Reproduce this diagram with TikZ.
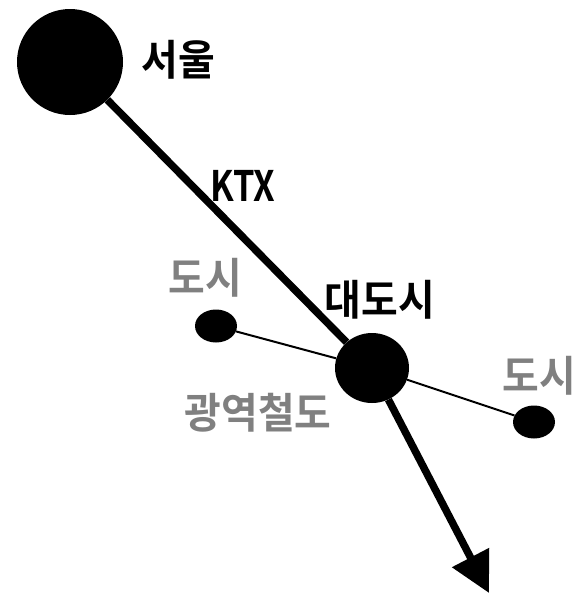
\documentclass[tikz,border=0pt]{standalone}
\usepackage{fontspec}
\usepackage{tikz}
\usetikzlibrary{arrows.meta,shapes.geometric}
\newfontfamily\krfont{Noto Sans CJK KR Bold}
\definecolor{labelgray}{HTML}{808080}
\newcommand{\narrow}[2][0.95]{\scalebox{#1}[1]{#2}}

\begin{document}
\begin{tikzpicture}[x=1pt,y=-1pt,
    city/.style={ellipse,fill=black,inner sep=0pt},
    ktx/.style={line width=7.5pt},
    metroline/.style={line width=2pt},
    lbl/.style={inner sep=0pt,font=\krfont\fontsize{42}{42}\selectfont},
    sublbl/.style={lbl,text=labelgray}]
                        % 画布大小
                        \useasboundingbox (0,0) rectangle (577,595);

                        % 放置城市
                        \node[city,minimum width=106pt,minimum height=106pt] (seoul) at (70,62) {};
                        \node[city,minimum width=74pt,minimum height=70pt] (metro) at (372,368) {};
                        \node[city,minimum width=42pt,minimum height=33pt] (cityA) at (216,326) {};
                        \node[city,minimum width=42pt,minimum height=33pt] (cityB) at (534,422) {};
                        \coordinate (south) at (489,593);

                        % 文字
                        \node[lbl] (seoulL) at (178,60) {\narrow{서울}};
                        \node[lbl] (ktxL) at (243,186) {\narrow[0.82]{KTX}};
                        \node[lbl] (metroL) at (380,300) {\narrow{대도시}};
                        \node[sublbl] (cityAL) at (205,278) {\narrow{도시}};
                        \node[sublbl] (cityBL) at (539,376) {\narrow{도시}};
                        \node[sublbl] (lineL) at (258,413) {\narrow{광역철도}};

                        % 画线路
                        \draw[ktx] (seoul) -- (metro);
                        \draw[ktx,-{Triangle[length=40pt,width=40pt]}] (metro) -- (south);
                        \draw[metroline] (cityA) -- (metro);
                        \draw[metroline] (metro) -- (cityB);
                    \end{tikzpicture}
\end{document}
